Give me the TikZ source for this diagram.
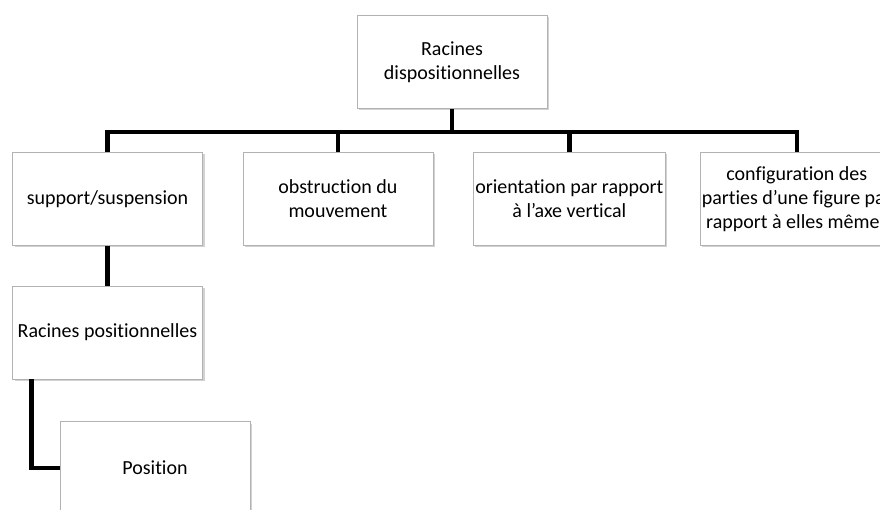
\documentclass[tikz,border=0pt]{standalone}
\usepackage{fontspec}
\setmainfont{Carlito}[Ligatures=NoCommon]
\usetikzlibrary{positioning}
\usetikzlibrary{shadows}

\begin{document}
\begin{tikzpicture}[x=1pt,y=-1pt,
  box/.style={draw=gray!60, fill=white, minimum width=190pt, minimum height=93pt,
    align=center, inner sep=2pt, font=\fontsize{20}{24}\selectfont,
    drop shadow={shadow xshift=2pt, shadow yshift=-2pt, opacity=0.35}},
  conn/.style={line width=4.5pt}]
\clip (0,0) rectangle (880,510);
\fill[white] (0,0) rectangle (880,510);
\node[box](root) at (452,62){Racines\\dispositionnelles};
\node[box](sup) at (107.5,199){support/suspension};
\node[box, right = 40pt of sup](obs){obstruction du\\mouvement};
\node[box, right = 40pt of obs](ori){orientation par rapport\\à l’axe vertical};
\node[box, right = 34pt of ori](conf){configuration des\\parties d’une figure par\\rapport à elles mêmes};
\node[box, below = 40pt of sup](pos){Racines positionnelles};
\node[box](posi) at (155,468){Position};
\coordinate (bar) at (452,132);
\draw[conn] (root.south) -- (bar);
\draw[conn] (sup.north) |- (bar) -| (conf.north);
\draw[conn] (obs.north) -- (obs.north |- bar);
\draw[conn] (ori.north) -- (ori.north |- bar);
\draw[conn] (sup.south) -- (pos.north);
\draw[conn] ([xshift=19pt]pos.south west) |- (posi.west);
\end{tikzpicture}
\end{document}
